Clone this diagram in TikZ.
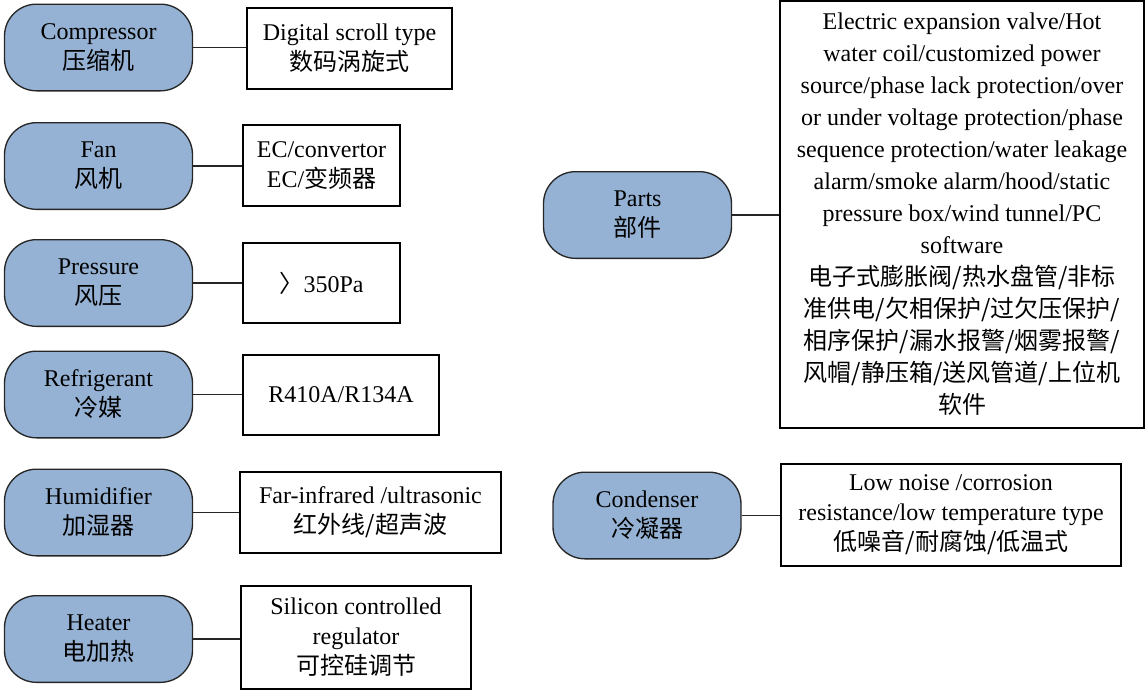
\documentclass[tikz,border=0pt]{standalone}
\usepackage{fontspec}
\setmainfont{Liberation Serif}
\newfontfamily\cjk{Noto Sans CJK SC}
\definecolor{partblue}{RGB}{149,178,212}
\tikzset{
  part/.style={draw=black!85, line width=1pt, fill=partblue, rounded corners=24pt,
    minimum width=141pt, minimum height=65pt, align=center,
    font=\fontsize{18}{22.5}\selectfont},
  spec/.style={draw=black, line width=1pt, fill=white, align=center, inner sep=2pt,
    font=\fontsize{18}{22.5}\selectfont},
  link/.style={line width=1pt, black!85}
}

\begin{document}
\begin{tikzpicture}[x=0.75pt,y=0.75pt,yscale=-1,xscale=1]
	\useasboundingbox (0,0) rectangle (1145,690);
	% left column
	\draw (98.5,47.5) node [part] (comp) {Compressor\\{\cjk 压缩机}};
	\draw (349.5,48.5) node [spec, minimum width=153.75pt, minimum height=60.75pt] (compTxt) {Digital scroll type\\{\cjk 数码涡旋式}};
	\draw (98.5,166) node [part] (fan) {Fan\\{\cjk 风机}};
	\draw (321.5,165.5) node [spec, minimum width=117.75pt, minimum height=60.75pt] (fanTxt) {EC/convertor\\EC/{\cjk 变频器}};
	\draw (98.5,283) node [part] (pres) {Pressure\\{\cjk 风压}};
	\draw (321.5,283) node [spec, minimum width=117.75pt, minimum height=60pt] (presTxt) {{\cjk 〉}350Pa};
	\draw (98.5,394.5) node [part] (refr) {Refrigerant\\{\cjk 冷媒}};
	\draw (341,395) node [spec, minimum width=147pt, minimum height=60pt] (refrTxt) {R410A/R134A};
	\draw (98.5,512.5) node [part] (humi) {Humidifier\\{\cjk 加湿器}};
	\draw (370.5,512.5) node [spec, minimum width=195.75pt, minimum height=60.75pt] (humiTxt) {Far-infrared /ultrasonic\\{\cjk 红外线/超声波}};
	\draw (98.5,639) node [part] (heat) {Heater\\{\cjk 电加热}};
	\draw (356,637.5) node [spec, minimum width=172.5pt, minimum height=77.25pt] (heatTxt) {Silicon controlled\\regulator\\{\cjk 可控硅调节}};
	% right column
	\draw (637.5,215) node [part] (parts) {Parts\\{\cjk 部件}};
	\draw (962,214.5) node [spec, minimum width=273pt, minimum height=320.25pt, font=\fontsize{18}{24}\selectfont] (partsTxt) {Electric expansion valve/Hot\\water coil/customized power\\source/phase lack protection/over\\or under voltage protection/phase\\sequence protection/water leakage\\alarm/smoke alarm/hood/static\\pressure box/wind tunnel/PC\\software\\{\cjk 电子式膨胀阀/热水盘管/非标}\\{\cjk 准供电/欠相保护/过欠压保护/}\\{\cjk 相序保护/漏水报警/烟雾报警/}\\{\cjk 风帽/静压箱/送风管道/上位机}\\{\cjk 软件}};
	\draw (647,515.5) node [part] (cond) {Condenser\\{\cjk 冷凝器}};
	\draw (951,515) node [spec, minimum width=255pt, minimum height=76.5pt] (condTxt) {Low noise /corrosion\\resistance/low temperature type\\{\cjk 低噪音/耐腐蚀/低温式}};
	% links
	\foreach \a in {comp,fan,pres,refr,humi,heat,parts,cond}
		\draw [link] (\a.east) -- (\a.east -| \a Txt.west);
\end{tikzpicture}
\end{document}
